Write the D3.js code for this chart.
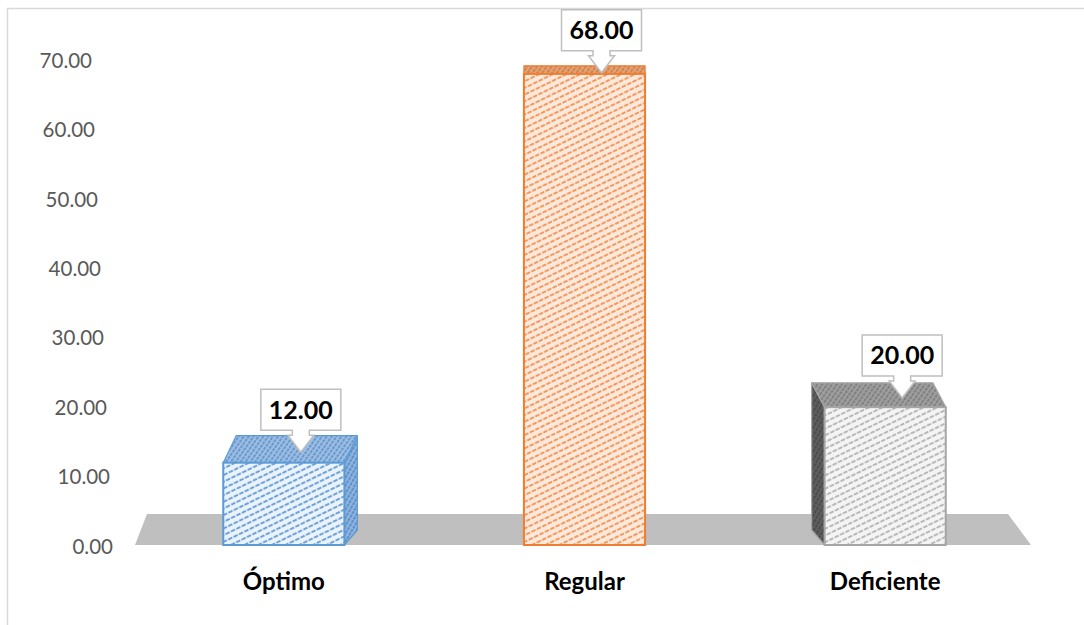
<!DOCTYPE html>
<html>
<head>
<meta charset="utf-8">
<script src="https://cdn.jsdelivr.net/npm/d3@7"></script>
<style>
  html, body { margin: 0; padding: 0; background: #fff; }
  svg { display: block; }
</style>
</head>
<body>
<svg id="chart" width="1084" height="625"></svg>
<script>
// ---- data ----
const categories = ["Óptimo", "Regular", "Deficiente"];
const values = [12, 68, 20];
const valueLabels = ["12.00", "68.00", "20.00"];
const tickValues = [0, 10, 20, 30, 40, 50, 60, 70];
const tickLabels = ["0.00", "10.00", "20.00", "30.00", "40.00", "50.00", "60.00", "70.00"];

// ---- styles ----
const edgeColors  = ["#5B9BD5", "#ED7D31", "#A5A5A5"];
const frontBg     = ["#EAF2FB", "#FCE9DC", "#F4F4F4"];
const frontLine   = ["#6FA3D8", "#F29A5E", "#B8B8B8"];
const topBg       = ["#9CBEE3", "#E4A173", "#9E9E9E"];
const topLine     = ["#5A8CC6", "#C7783F", "#777777"];
const sideBg      = ["#8DB3DE", "#D98B55", "#5E5E5E"];
const sideLine    = ["#4F85C2", "#B9652B", "#444444"];

const svg = d3.select("#chart");
const defs = svg.append("defs");

function hatch(id, bg, line, spacing, sw, angle, dash) {
  const p = defs.append("pattern").attr("id", id)
    .attr("patternUnits", "userSpaceOnUse")
    .attr("width", spacing).attr("height", spacing)
    .attr("patternTransform", `rotate(${angle})`);
  p.append("rect").attr("width", spacing).attr("height", spacing).attr("fill", bg);
  p.append("line").attr("x1", 0).attr("x2", spacing)
    .attr("y1", spacing / 2).attr("y2", spacing / 2)
    .attr("stroke", line).attr("stroke-width", sw)
    .attr("stroke-dasharray", dash);
}
categories.forEach((c, i) => {
  hatch("front" + i, frontBg[i], frontLine[i], 6, 2, -26, "3 1.5");
  hatch("top" + i, topBg[i], topLine[i], 4, 1.6, -55, "2 1");
  hatch("side" + i, sideBg[i], sideLine[i], 4, 1.6, -60, "2 1");
});

// ---- border ----
svg.append("line").attr("x1", 7.5).attr("x2", 7.5).attr("y1", 8).attr("y2", 625)
  .attr("stroke", "#D9D9D9").attr("stroke-width", 1.5);
svg.append("line").attr("x1", 7).attr("x2", 1084).attr("y1", 8.5).attr("y2", 8.5)
  .attr("stroke", "#D9D9D9").attr("stroke-width", 1.5);

// ---- scales ----
const x = d3.scaleBand().domain(categories).range([133.5, 1035.5]).padding(0);
const y = d3.scaleLinear().domain([0, 70]).range([546, 60]);
const bw = x.bandwidth();
const barW = bw * 0.403;
const vpX = (x.range()[0] + x.range()[1]) / 2;

// ---- y axis (labels follow the perspective of the back wall) ----
const yAxis = d3.axisLeft(y).tickValues(tickValues)
  .tickFormat((d, i) => tickLabels[i]).tickSize(0).tickPadding(0);
const ga = svg.append("g").attr("transform", "translate(113,0)").call(yAxis);
ga.select(".domain").remove();
ga.selectAll(".tick text")
  .attr("x", d => -(y(0) - y(d)) * 0.0432)
  .attr("font-family", "Lato, 'Open Sans', sans-serif")
  .attr("font-size", 20.5).attr("fill", "#595959")
  .attr("dy", "0.35em");

// ---- floor ----
const y0 = y(0) - 1;
const fl = x.range()[0] + 1.5, fr = x.range()[1] - 4.5;
svg.append("path")
  .attr("d", `M${fl},${y0} L${fl + 12},${y0 - 31} L${fr - 23},${y0 - 31} L${fr},${y0} Z`)
  .attr("fill", "#BFBFBF");

// ---- bars ----
const g = svg.append("g");
categories.forEach((c, i) => {
  const x0 = x(c) + (bw - barW) / 2, x1 = x0 + barW;
  const yT = y(values[i]), yB = y0;
  const cx = (x0 + x1) / 2;
  const dx = (vpX - cx) * 0.043;
  const dTop = (yT + 93) * 0.0486;
  const dBot = 15;
  const edge = edgeColors[i];

  if (Math.abs(dx) > 1) {
    const sx = dx > 0 ? x1 : x0;
    g.append("path")
      .attr("d", `M${sx},${yT} L${sx + dx},${yT - dTop} L${sx + dx},${yB - dBot} L${sx},${yB} Z`)
      .attr("fill", `url(#side${i})`).attr("stroke", edge).attr("stroke-width", 1.2)
      .attr("stroke-linejoin", "round");
  }
  g.append("path")
    .attr("d", `M${x0},${yT} L${x1},${yT} L${x1 + dx},${yT - dTop} L${x0 + dx},${yT - dTop} Z`)
    .attr("fill", `url(#top${i})`).attr("stroke", edge).attr("stroke-width", 1.2)
    .attr("stroke-linejoin", "round");
  g.append("rect")
    .attr("x", x0).attr("y", yT).attr("width", barW).attr("height", yB - yT)
    .attr("fill", `url(#front${i})`).attr("stroke", edge).attr("stroke-width", 2);

  // callout label
  const lx = cx + 17;
  const tip = yT - dTop / 2 + 3;
  const bb = tip - 22, bt = bb - 41;
  const hw = 40, sw = 8.5, hh = 13;
  g.append("path")
    .attr("d", `M${lx - hw},${bt} L${lx + hw},${bt} L${lx + hw},${bb} L${lx + sw},${bb}
      L${lx + sw},${bb + 5} L${lx + hh},${bb + 5} L${lx},${tip} L${lx - hh},${bb + 5}
      L${lx - sw},${bb + 5} L${lx - sw},${bb} L${lx - hw},${bb} Z`)
    .attr("fill", "#fff").attr("stroke", "#BFBFBF").attr("stroke-width", 1.5)
    .attr("stroke-linejoin", "miter");
  g.append("text")
    .attr("x", lx).attr("y", (bt + bb) / 2).attr("dy", "0.36em")
    .attr("text-anchor", "middle")
    .attr("font-family", "Lato, 'Open Sans', sans-serif")
    .attr("font-weight", "bold").attr("font-size", 25).attr("fill", "#000")
    .text(valueLabels[i]);

  svg.append("text")
    .attr("x", cx).attr("y", 581).attr("dy", "0.36em")
    .attr("text-anchor", "middle")
    .attr("font-family", "Lato, 'Open Sans', sans-serif")
    .attr("font-weight", "bold").attr("font-size", 24).attr("fill", "#000")
    .text(c);
});
</script>
</body>
</html>
